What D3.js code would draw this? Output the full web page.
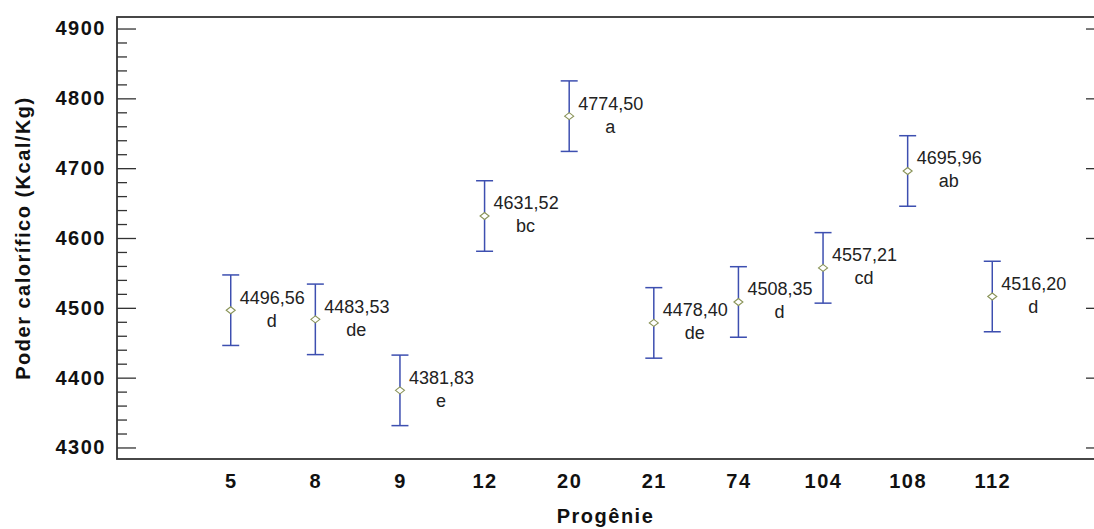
<!DOCTYPE html>
<html>
<head>
<meta charset="utf-8">
<script src="https://cdn.jsdelivr.net/npm/d3@7"></script>
<style>
  body { margin: 0; background: #fff; }
  svg { display: block; }
</style>
</head>
<body>
<svg></svg>
<script>
// chart data
const progenies = ["5", "8", "9", "12", "20", "21", "74", "104", "108", "112"];
const means = [4496.56, 4483.53, 4381.83, 4631.52, 4774.50, 4478.40, 4508.35, 4557.21, 4695.96, 4516.20];
const lower = [4446.1, 4433.0, 4331.3, 4581.0, 4724.0, 4427.9, 4457.9, 4506.7, 4645.5, 4465.7];
const upper = [4547.1, 4534.0, 4432.3, 4682.0, 4825.0, 4528.9, 4558.9, 4607.7, 4746.5, 4566.7];
const meanLabels = ["4496,56", "4483,53", "4381,83", "4631,52", "4774,50", "4478,40", "4508,35", "4557,21", "4695,96", "4516,20"];
const groups = ["d", "de", "e", "bc", "a", "de", "d", "cd", "ab", "d"];
const yTicks = [4300, 4400, 4500, 4600, 4700, 4800, 4900];

const width = 1094;
const height = 529;
const plotLeft = 117, plotRight = 1106, plotTop = 17, plotBottom = 459;

const svg = d3.select("svg")
    .attr("width", width)
    .attr("height", height);

const x = d3.scalePoint()
    .domain(progenies)
    .range([plotLeft, plotRight])
    .padding(1.344);

const y = d3.scaleLinear()
    .domain([4283.5, 4916.5])
    .range([plotBottom, plotTop]);

// minor ticks every 20
const minorTicks = d3.range(4300, 4901, 20).filter(v => v % 100 !== 0);

svg.append("g")
    .attr("transform", "translate(" + plotLeft + ",0)")
    .call(d3.axisLeft(y).tickValues(minorTicks).tickSize(-10).tickFormat(""))
    .call(g => g.select(".domain").remove())
    .selectAll("line").attr("stroke", "#333").attr("stroke-width", 1.3);

const yAxis = svg.append("g")
    .attr("transform", "translate(" + plotLeft + ",0)")
    .call(d3.axisLeft(y).tickValues(yTicks).tickSize(-19).tickPadding(11).tickFormat(d3.format("d")));
yAxis.select(".domain").remove();
yAxis.selectAll("line").attr("stroke", "#333").attr("stroke-width", 1.3);
yAxis.selectAll("text")
    .attr("fill", "#111")
    .style("font-family", "'Liberation Sans', Arial, sans-serif")
    .style("font-size", "20px")
    .style("font-weight", "bold")
    .style("letter-spacing", "1.5px");

// ticks on the right side
svg.append("g")
    .attr("transform", "translate(" + plotRight + ",0)")
    .call(d3.axisLeft(y).tickValues(yTicks).tickSize(20).tickFormat(""))
    .call(g => g.select(".domain").remove())
    .selectAll("line").attr("stroke", "#333").attr("stroke-width", 1.3);

const xAxis = svg.append("g")
    .attr("transform", "translate(0," + plotBottom + ")")
    .call(d3.axisBottom(x).tickSize(0).tickPadding(15));
xAxis.select(".domain").remove();
xAxis.selectAll("text")
    .attr("fill", "#111")
    .style("font-family", "'Liberation Sans', Arial, sans-serif")
    .style("font-size", "20px")
    .style("font-weight", "bold")
    .style("letter-spacing", "1.5px");

// frame
svg.append("rect")
    .attr("x", plotLeft)
    .attr("y", plotTop)
    .attr("width", plotRight - plotLeft)
    .attr("height", plotBottom - plotTop)
    .attr("fill", "none")
    .attr("stroke", "#333")
    .attr("stroke-width", 1.8);

// axis titles
svg.append("text")
    .attr("x", (plotLeft + 1094) / 2)
    .attr("y", 523)
    .attr("text-anchor", "middle")
    .attr("fill", "#111")
    .style("font-family", "'Liberation Sans', Arial, sans-serif")
    .style("font-size", "20px")
    .style("font-weight", "bold")
    .style("letter-spacing", "1.5px")
    .text("Progênie");

svg.append("text")
    .attr("transform", "translate(30," + ((plotTop + plotBottom) / 2) + ") rotate(-90)")
    .attr("text-anchor", "middle")
    .attr("fill", "#111")
    .style("font-family", "'Liberation Sans', Arial, sans-serif")
    .style("font-size", "20px")
    .style("font-weight", "bold")
    .style("letter-spacing", "1.5px")
    .text("Poder calorífico (Kcal/Kg)");

// error bars
const pts = progenies.map((p, i) => ({ p, mean: means[i], lo: lower[i], hi: upper[i], label: meanLabels[i], group: groups[i] }));
const barColor = "#3d4fb0";
const bars = svg.append("g").selectAll("g")
    .data(pts)
    .enter()
    .append("g");

bars.append("line")
    .attr("x1", d => x(d.p)).attr("x2", d => x(d.p))
    .attr("y1", d => y(d.lo)).attr("y2", d => y(d.hi))
    .attr("stroke", barColor).attr("stroke-width", 1.5);
bars.append("line")
    .attr("x1", d => x(d.p) - 8.5).attr("x2", d => x(d.p) + 8.5)
    .attr("y1", d => y(d.hi)).attr("y2", d => y(d.hi))
    .attr("stroke", barColor).attr("stroke-width", 1.5);
bars.append("line")
    .attr("x1", d => x(d.p) - 8.5).attr("x2", d => x(d.p) + 8.5)
    .attr("y1", d => y(d.lo)).attr("y2", d => y(d.lo))
    .attr("stroke", barColor).attr("stroke-width", 1.5);

// diamond markers
bars.append("path")
    .attr("d", d => {
        const cx = x(d.p), cy = y(d.mean);
        return "M" + (cx - 4.5) + "," + cy + "L" + cx + "," + (cy - 3.5) + "L" + (cx + 4.5) + "," + cy + "L" + cx + "," + (cy + 3.5) + "Z";
    })
    .attr("fill", "#fff")
    .attr("stroke", "#8a9458")
    .attr("stroke-width", 1.1);

// value and group labels
const labels = bars.append("text")
    .attr("transform", d => "translate(" + (x(d.p) + 9) + "," + (y(d.mean) - 6.5) + ")")
    .attr("fill", "#222")
    .style("font-family", "'Liberation Sans', Arial, sans-serif")
    .style("font-size", "18px");
labels.append("tspan")
    .attr("x", 0)
    .text(d => d.label);
labels.append("tspan")
    .attr("x", 32)
    .attr("dy", 23)
    .attr("text-anchor", "middle")
    .text(d => d.group);
</script>
</body>
</html>
